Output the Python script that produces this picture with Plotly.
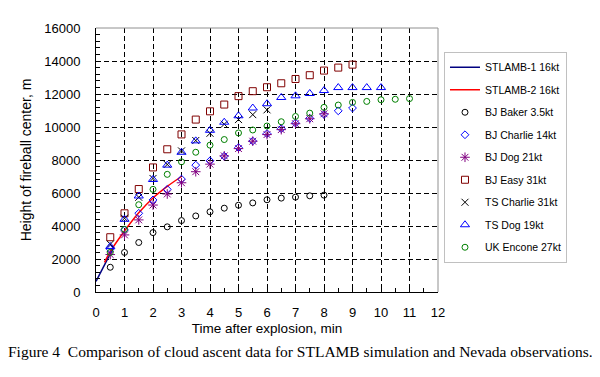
import plotly.graph_objects as go

# ---- data ----
stlamb1_t = [0.0, 0.25, 0.5, 0.6]
stlamb1_h = [650, 1500, 2350, 2650]
stlamb2_t = [0.3, 0.5, 1.0, 1.5, 2.0, 2.5, 3.0]
stlamb2_h = [1800, 2450, 3700, 4800, 5700, 6400, 7000]

def halfsteps(n):
    return [0.5 * (i + 1) for i in range(n)]

baker_h = [1500, 2400, 3000, 3600, 3950, 4330, 4610, 4860, 5080, 5260, 5400, 5590, 5690, 5750, 5830, 5870]
bj_charlie_h = [2600, 3760, 4770, 5580, 6220, 6840, 7690, 7950, 8230, 8750, 9150, 9600, 9900, 10240, 10530, 10760, 10980, 11150]
bj_dog_h = [2270, 3460, 4370, 5270, 5940, 6620, 7290, 7750, 8250, 8690, 9140, 9540, 9840, 10200, 10500, 10800]
bj_easy_h = [3320, 4770, 6240, 7550, 8650, 9550, 10450, 10950, 11360, 11870, 12170, 12410, 12650, 12910, 13140, 13420, 13600, 13780]
ts_charlie_h = [2900, 4470, 5740, 6880, 7730, 8550, 9180, 9620, 10170, 10450, 10750, 11040]
ts_dog_h = [2760, 4410, 5820, 6820, 7690, 8470, 9160, 9800, 10290, 10680, 11150, 11410, 11790, 11890, 12030, 12210, 12390, 12390, 12390, 12390]
uk_encone_h = [2400, 3800, 5290, 6220, 7130, 7890, 8470, 8900, 9240, 9640, 9820, 10060, 10320, 10640, 10840, 11190, 11330, 11490, 11550, 11650, 11680, 11720]

x_ticks = list(range(0, 13))
y_ticks = list(range(0, 16001, 2000))

FONT = "Arial, Liberation Sans, sans-serif"

fig = go.Figure()
fig.add_trace(go.Scatter(x=stlamb1_t, y=stlamb1_h, mode="lines", name="STLAMB-1 16kt",
                         line=dict(color="#000080", width=1.5), legendgroup="a"))
fig.add_trace(go.Scatter(x=stlamb2_t, y=stlamb2_h, mode="lines", name="STLAMB-2 16kt",
                         line=dict(color="#ff0000", width=1.5, shape="spline"), legendgroup="b"))

markers = [
    ("BJ Baker 3.5kt", baker_h, "circle-open", "#000000", 6),
    ("BJ Charlie 14kt", bj_charlie_h, "diamond-open", "#0000ff", 6),
    ("BJ Dog 21kt", bj_dog_h, "asterisk-open", "#800080", 8),
    ("BJ Easy 31kt", bj_easy_h, "square-open", "#800000", 7),
    ("TS Charlie 31kt", ts_charlie_h, "x-thin-open", "#000000", 7),
    ("TS Dog 19kt", ts_dog_h, "triangle-up-open", "#0000ff", 8),
    ("UK Encone 27kt", uk_encone_h, "circle-open", "#008000", 6),
]
for i, (name, h, sym, col, sz) in enumerate(markers):
    fig.add_trace(go.Scatter(x=halfsteps(len(h)), y=h, mode="markers", name=name,
                             marker=dict(symbol=sym, color=col, size=sz, line=dict(width=1, color=col)),
                             legendgroup="g%d" % i))

axis_common = dict(
    showline=True, linecolor="black", linewidth=1,
    ticks="inside", ticklen=5, tickcolor="black",
    showgrid=True, gridcolor="black", gridwidth=1, griddash="5px,3px",
    zeroline=False, tickfont=dict(family=FONT, size=13, color="black"),
)
fig.update_xaxes(range=[0, 12], tickvals=x_ticks, ticklabelstandoff=8,
                 minor=dict(dtick=0.5, ticks="inside", ticklen=4, tickcolor="black", showgrid=False),
                 title=dict(text="Time after explosion, min", font=dict(family=FONT, size=13.5, color="black"), standoff=4),
                 **axis_common)
fig.update_yaxes(range=[0, 16000], tickvals=y_ticks, tickformat="d", ticklabelstandoff=12,
                 minor=dict(dtick=400, ticks="inside", ticklen=4, tickcolor="black", showgrid=False),
                 title=dict(text="Height of fireball center, m", font=dict(family=FONT, size=14, color="black"), standoff=9),
                 **axis_common)

fig.add_shape(type="line", xref="paper", yref="paper", x0=0, x1=1, y0=1, y1=1, line=dict(color="#909090", width=1))
fig.add_shape(type="line", xref="paper", yref="paper", x0=1, x1=1, y0=0, y1=1, line=dict(color="#909090", width=1))

fig.add_annotation(text="Figure 4\u00a0 Comparison of cloud ascent data for STLAMB simulation and Nevada observations.",
                   xref="paper", yref="paper", x=0.597, y=-0.225, xanchor="center", yanchor="middle",
                   showarrow=False, font=dict(family="Times New Roman, Liberation Serif, serif", size=15.5, color="black"))

# page body has an 8px default margin, so the figure is 8px smaller and shifted
fig.update_layout(
    width=592, height=369,
    margin=dict(l=87.5, r=162, t=20, b=84.5),
    paper_bgcolor="white", plot_bgcolor="white",
    showlegend=True,
    legend=dict(x=1.0175, y=0.91, xanchor="left", yanchor="top",
                bordercolor="#c0c0c0", borderwidth=1, bgcolor="white",
                font=dict(family=FONT, size=10.5, color="black"),
                tracegroupgap=3.5, itemwidth=30),
)

fig.write_html("out.html")
